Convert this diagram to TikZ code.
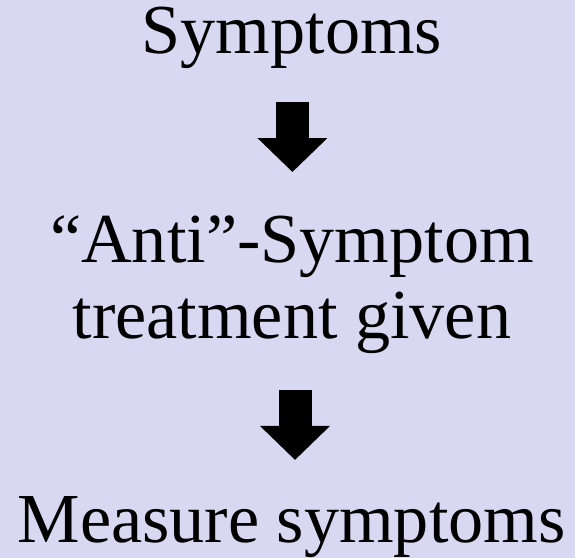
\documentclass[tikz,border=0pt]{standalone}
\usepackage{fontspec}
\setmainfont{Liberation Serif}
\usetikzlibrary{arrows.meta, positioning}
\definecolor{clavender}{HTML}{D8D8F2}
\tikzset{
  every picture/.style={font=\fontsize{70.5}{76}\selectfont},
  stage/.style={anchor=base, align=center, inner sep=0pt, text=black},
  downarrow/.style={-{Triangle[length=34bp, width=68bp]}, line width=33bp, draw=black},
}
\begin{document}
\begin{tikzpicture}
  % ---------- background ----------
  \fill[clavender] (0,0) rectangle (20.29,19.69);
  \useasboundingbox (0,0) rectangle (20.29,19.69);
  % ---------- stages ----------
  \node[stage] (symptoms) at (10.30, 17.80) {Symptoms};
  \node[stage] (treatment) at (10.30, 7.76) {“Anti”-Symptom\\treatment given};
  \node[stage] (measure) at (10.29, 0.53) {Measure symptoms};
  % ---------- arrows ----------
  \coordinate (a1top) at (10.32, 16.09);
  \coordinate (a1tip) at (10.32, 13.62);
  \coordinate (a2top) at (10.41, 5.93);
  \coordinate (a2tip) at (10.41, 3.46);
  \draw[downarrow] (a1top) -- (a1tip);
  \draw[downarrow] (a2top) -- (a2tip);
\end{tikzpicture}
\end{document}
